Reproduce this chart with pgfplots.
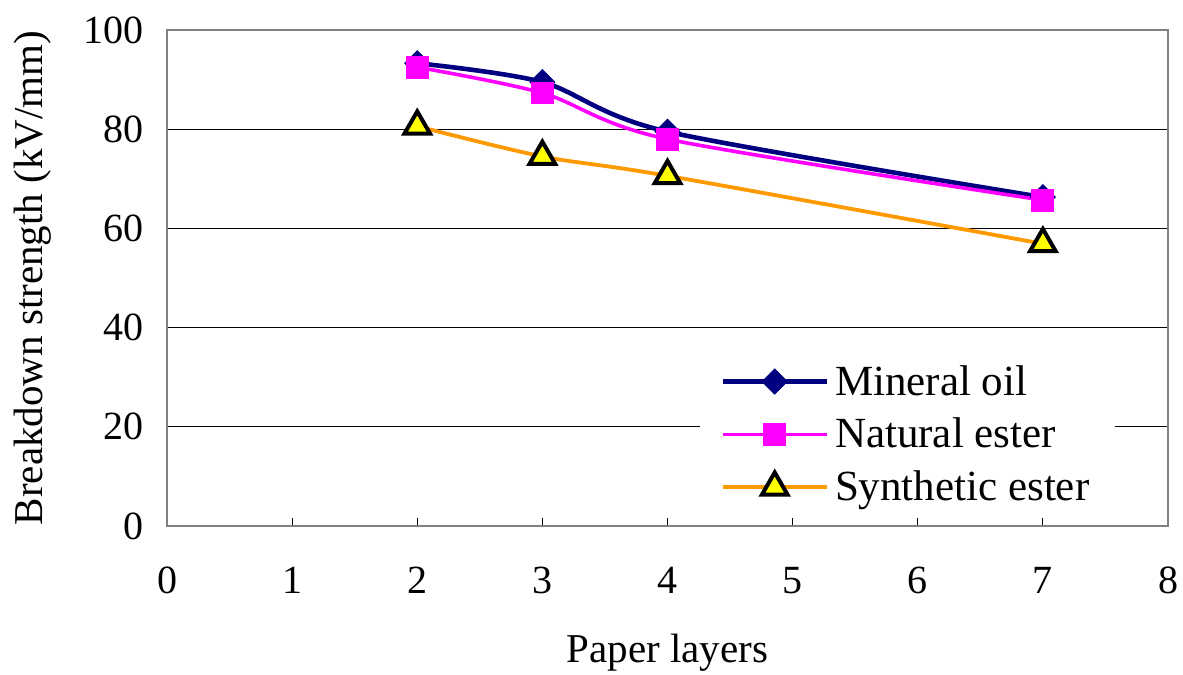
\documentclass[border=0pt]{standalone}
\usepackage{pgfplots}
\pgfplotsset{compat=1.18}
\usepackage{fontspec}
\setmainfont{Liberation Serif}

\definecolor{mineral}{RGB}{0,0,128}
\definecolor{natural}{RGB}{255,0,255}
\definecolor{synth}{RGB}{255,153,0}
\definecolor{synthfill}{RGB}{255,255,0}
\definecolor{framegray}{RGB}{128,128,128}

\pgfplotstableread{
x  y
2  93.3
3  89.5
4  79.5
7  66.3
}\mineraloil
\pgfplotstableread{
x  y
2  92.5
3  87.3
4  78.0
7  65.7
}\naturalester
\pgfplotstableread{
x  y
2  80.6
3  74.5
4  70.6
7  56.9
}\syntheticester

\begin{document}
\begin{tikzpicture}
\begin{axis}[
  scale only axis,
  width=500.5pt, height=248pt,
  xmin=0, xmax=8, ymin=0, ymax=100,
  xtick={0,1,...,8}, ytick={0,20,...,100},
  axis line style={draw=framegray, line width=1.2pt},
  xtick pos=bottom, ytick pos=left,
  xtick style={draw=black, line width=0.5pt},
  x tick label style={/pgf/number format/assume math mode=true, font=\fontsize{20}{24}\selectfont, yshift=-17pt},
  y tick label style={/pgf/number format/assume math mode=true, font=\fontsize{20}{24}\selectfont, xshift=-8pt},
  major tick length=4pt,
  tick align=inside,
  ytick style={draw=none},
  ymajorgrids,
  grid style={black, line width=0.5pt},
  xlabel={Paper layers},
  ylabel={Breakdown strength (kV/mm)},
  label style={font=\fontsize{20.5}{24}\selectfont},
  xlabel style={at={(axis description cs:0.5,-0.256)}, anchor=center},
  ylabel style={at={(axis description cs:-0.134,0.5)}, anchor=center},
  legend style={
    at={(axis description cs:0.5325,0.02)}, anchor=south west,
    fill=white, draw=none,
    font=\fontsize{21.5}{24}\selectfont,
    inner xsep=10pt, inner ysep=4pt,
    nodes={inner xsep=3pt},
    row sep=6pt,
    legend cell align=left,
  },
  legend image code/.code={
    \draw[mark repeat=2, mark phase=2] plot coordinates {(0pt,0pt) (26pt,0pt) (52pt,0pt)};
  },
  smooth, tension=0.5,
]
\addplot[color=mineral, line width=2.3pt, mark=square*, mark size=4.4pt,
  mark options={rotate=45, fill=mineral, draw=mineral, line width=0.5pt, solid}]
  table[x=x, y=y] {\mineraloil};
\addlegendentry{Mineral oil}
\addplot[color=natural, line width=1.8pt, mark=square*, mark size=5.3pt,
  mark options={fill=natural, draw=natural, line width=0.8pt, solid}]
  table[x=x, y=y] {\naturalester};
\addlegendentry{Natural ester}
\addplot[color=synth, line width=1.9pt, mark=triangle*, mark size=7.4pt,
  mark options={fill=synthfill, draw=black, line width=2pt, solid}]
  table[x=x, y=y] {\syntheticester};
\addlegendentry{Synthetic ester}
\coordinate (ll) at (rel axis cs:0,0);
\coordinate (ur) at (rel axis cs:1,1);
\end{axis}
\pgfresetboundingbox
\path ([shift={(-83.5pt,-74pt)}]ll) rectangle ([shift={(7.5pt,15pt)}]ur);
\end{tikzpicture}
\end{document}
